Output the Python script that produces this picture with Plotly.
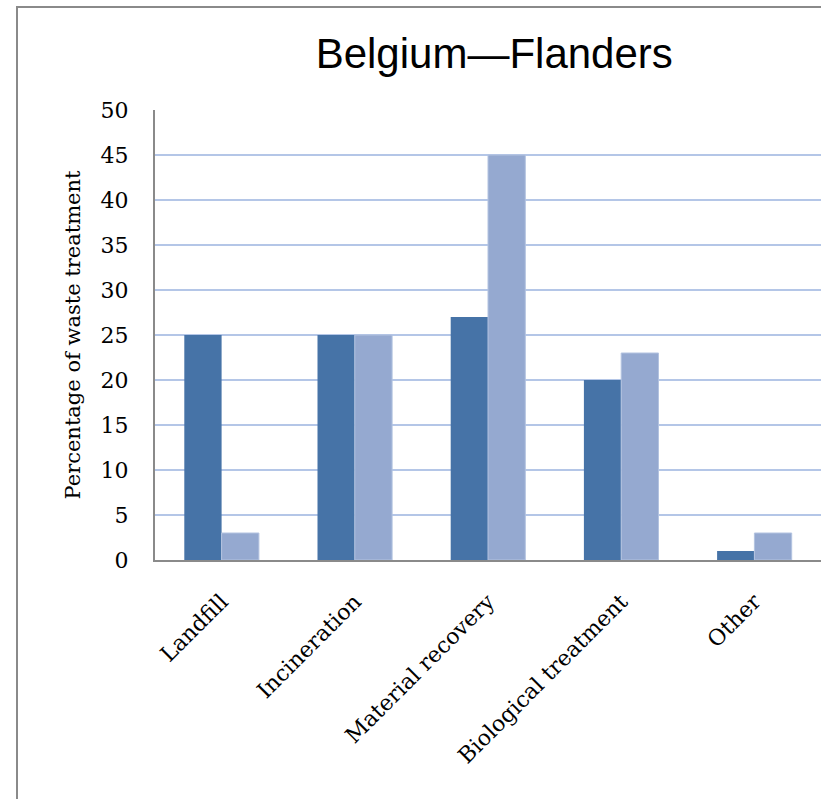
import plotly.graph_objects as go

categories = ["Landfill", "Incineration", "Material recovery", "Biological treatment", "Other"]
series_a = [25, 25, 27, 20, 1]
series_b = [3, 25, 45, 23, 3]
y_ticks = [0, 5, 10, 15, 20, 25, 30, 35, 40, 45, 50]

SERIF = "DejaVu Serif, Cambria, serif"

fig = go.Figure()
fig.add_trace(go.Bar(x=categories, y=series_a, marker=dict(color="#4673a7", line=dict(width=0)), showlegend=False))
fig.add_trace(go.Bar(x=categories, y=series_b, marker=dict(color="#95a9d0", line=dict(color="#b3c3e0", width=1)), showlegend=False))

fig.update_layout(
    width=821, height=799,
    margin=dict(l=155, r=0, t=110, b=239),
    paper_bgcolor="white", plot_bgcolor="white",
    barmode="group", bargap=0.44, bargroupgap=0,
    title=dict(text="Belgium\u2014Flanders", x=0.602, xanchor="center", y=1 - 53 / 799, yanchor="middle",
               font=dict(family="Liberation Sans, Arial, sans-serif", size=42, color="black")),
    xaxis=dict(range=[-0.5, 4.5], showgrid=False, showline=True, linecolor="#8a8a8a", linewidth=2,
               tickangle=-45, tickfont=dict(family=SERIF, size=22, color="black"), ticks="",
               ticklabelstandoff=18),
    yaxis=dict(range=[0, 50], tickvals=y_ticks, showgrid=True, gridcolor="#b4c6e7", gridwidth=2,
               showline=True, linecolor="#8a8a8a", linewidth=2, zeroline=False,
               tickfont=dict(family=SERIF, size=22, color="black"), ticklabelstandoff=20,
               title=dict(text="Percentage of waste treatment", font=dict(family=SERIF, size=21, color="black"), standoff=14)),
    shapes=[dict(type="rect", xref="paper", yref="paper",
                 x0=(17 - 155) / 666, x1=1.2, y0=-0.7, y1=(560 - 7) / 450,
                 line=dict(color="#8a8a8a", width=2), fillcolor="rgba(0,0,0,0)", layer="below")],
)

fig.write_html("out.html")
